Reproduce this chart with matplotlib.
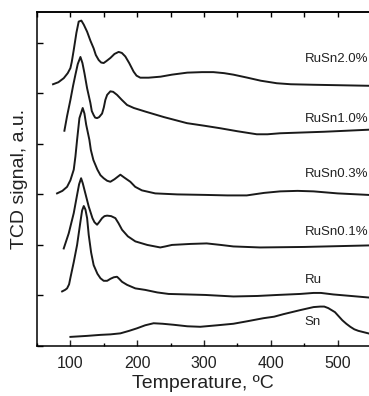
import matplotlib
matplotlib.use("Agg")
import matplotlib.pyplot as plt
from matplotlib.ticker import MultipleLocator

plt.rcParams["font.family"] = ["Liberation Sans", "DejaVu Sans"]

# TPR profiles, values (curves already stacked)
t_rusn20 = [74, 82, 90, 96, 100, 102, 105, 109, 112.4, 116.4, 120, 125, 130, 134.8, 138,
            142.3, 146, 149.8, 154, 159.8, 166, 172.2, 177, 182.2, 188, 194.6, 199, 204.6,
            217, 235, 252, 275, 297, 314, 330, 344, 365, 385, 409, 430, 464, 546]
s_rusn20 = [5.18, 5.22, 5.30, 5.40, 5.50, 5.62, 5.86, 6.20, 6.42, 6.44, 6.36, 6.22, 6.04,
            5.89, 5.76, 5.66, 5.61, 5.60, 5.64, 5.70, 5.78, 5.82, 5.80, 5.73, 5.60, 5.43,
            5.35, 5.31, 5.31, 5.33, 5.37, 5.41, 5.42, 5.42, 5.40, 5.37, 5.31, 5.25, 5.20,
            5.18, 5.17, 5.15]

t_rusn10 = [91, 95, 100, 104, 107.5, 111, 115, 118, 121, 125, 129.9, 132, 134.8, 137,
            139.9, 143, 147.4, 150, 152.3, 155, 159.8, 164, 169.8, 177, 184.8, 195, 212,
            240, 274.5, 300, 324, 350, 379, 395, 414, 480, 546]
s_rusn10 = [4.26, 4.55, 4.87, 5.15, 5.37, 5.58, 5.72, 5.60, 5.40, 5.10, 4.81, 4.65, 4.57,
            4.52, 4.51, 4.53, 4.60, 4.72, 4.87, 4.97, 5.04, 5.03, 4.97, 4.87, 4.77, 4.71,
            4.64, 4.53, 4.41, 4.36, 4.31, 4.25, 4.19, 4.19, 4.21, 4.24, 4.28]

t_rusn03 = [80, 88, 95, 100, 105, 107.5, 110, 113.5, 118.4, 121, 123.6, 128.4, 130.6,
            134.4, 140.4, 145, 149.8, 155, 159.8, 166, 174.8, 181, 189.7, 197, 207, 227,
            260, 302, 335, 364, 390, 414, 440, 464, 500, 546]
s_rusn03 = [3.02, 3.07, 3.15, 3.28, 3.49, 3.75, 4.08, 4.51, 4.71, 4.60, 4.38, 4.08, 3.88,
            3.68, 3.49, 3.38, 3.32, 3.27, 3.25, 3.30, 3.39, 3.33, 3.25, 3.15, 3.08, 3.02,
            3.00, 2.99, 2.98, 2.98, 3.03, 3.06, 3.07, 3.06, 3.02, 2.99]

t_rusn01 = [90, 97.5, 105, 110, 113, 116, 118.5, 121, 127.4, 133, 136, 139.9, 143, 147.4,
            151, 154.9, 161, 167.3, 172, 177.3, 186, 197.2, 215, 234.5, 242, 252, 280,
            304, 325, 344, 384, 450, 546]
s_rusn01 = [1.93, 2.23, 2.63, 2.99, 3.20, 3.32, 3.22, 3.09, 2.76, 2.53, 2.45, 2.40, 2.45,
            2.53, 2.57, 2.58, 2.57, 2.53, 2.43, 2.30, 2.17, 2.07, 2.00, 1.95, 1.97, 2.00,
            2.02, 2.03, 2.00, 1.97, 1.95, 1.96, 1.99]

t_ru = [87.6, 92, 95, 98, 100, 105, 110, 115, 117.5, 120, 122.5, 125, 127.4, 131, 134.8,
        140.4, 145, 149.8, 155, 160, 165, 169.8, 173, 177.3, 184.8, 197.2, 212, 230, 247,
        275, 302, 344, 380, 410, 444, 464, 475, 493.6, 520, 546]
s_ru = [1.08, 1.11, 1.14, 1.22, 1.35, 1.66, 2.00, 2.46, 2.68, 2.77, 2.70, 2.53, 2.20, 1.85,
        1.60, 1.43, 1.34, 1.29, 1.29, 1.33, 1.36, 1.37, 1.33, 1.27, 1.21, 1.14, 1.11, 1.06,
        1.03, 1.02, 1.01, 0.98, 0.99, 1.01, 1.03, 1.05, 1.05, 1.02, 0.99, 0.96]

t_sn = [100, 125, 144.9, 160, 174.8, 188, 199.7, 212, 224.5, 238, 254.4, 275, 294.4, 320,
        344, 365, 389, 405, 419, 444, 464, 474, 480, 486, 496, 507, 513, 519, 525, 531, 546]
s_sn = [0.18, 0.20, 0.22, 0.23, 0.25, 0.30, 0.35, 0.41, 0.45, 0.44, 0.42, 0.39, 0.38, 0.41,
        0.44, 0.49, 0.55, 0.58, 0.63, 0.71, 0.77, 0.78, 0.78, 0.75, 0.67, 0.51, 0.44, 0.38,
        0.33, 0.30, 0.25]

labels = ["RuSn2.0%", "RuSn1.0%", "RuSn0.3%", "RuSn0.1%", "Ru", "Sn"]
label_y = [5.68, 4.50, 3.41, 2.26, 1.31, 0.48]
label_x = 451

fig = plt.figure(figsize=(3.69, 3.96), dpi=100)
ax = fig.add_axes([0.1003, 0.1263, 0.8997, 0.8434])

curves = [(t_rusn20, s_rusn20), (t_rusn10, s_rusn10), (t_rusn03, s_rusn03),
          (t_rusn01, s_rusn01), (t_ru, s_ru), (t_sn, s_sn)]
for (t, s), name, ly in zip(curves, labels, label_y):
    ax.plot(t, s, color="#1a1a1a", lw=1.4, solid_joinstyle="round")
    ax.text(label_x, ly, name, fontsize=9.5, color="#222222", ha="left", va="center")

ax.set_xlim(50, 547)
ax.set_ylim(0, 6.61)
ax.xaxis.set_major_locator(MultipleLocator(100))
ax.xaxis.set_minor_locator(MultipleLocator(50))
ax.yaxis.set_major_locator(MultipleLocator(1))
ax.set_yticklabels([])
ax.tick_params(axis="x", which="major", direction="in", length=4, width=1,
               labelsize=11.5, pad=7, colors="#222222")
ax.tick_params(axis="x", which="minor", direction="in", length=2, width=1)
ax.tick_params(axis="y", direction="in", length=4, width=1)

top = ax.secondary_xaxis("top")
top.xaxis.set_major_locator(MultipleLocator(50))
top.tick_params(direction="in", length=3.5, width=1, labeltop=False)

ax.spines["right"].set_visible(False)
for sp in ["left", "bottom", "top"]:
    ax.spines[sp].set_linewidth(1.1)
top.spines["top"].set_linewidth(1.1)

ax.set_xlabel("Temperature, ºC", fontsize=14, color="#222222", labelpad=3)
ax.set_ylabel("TCD signal, a.u.", fontsize=14, color="#222222", labelpad=3)

fig.savefig("out.png", dpi=100)
